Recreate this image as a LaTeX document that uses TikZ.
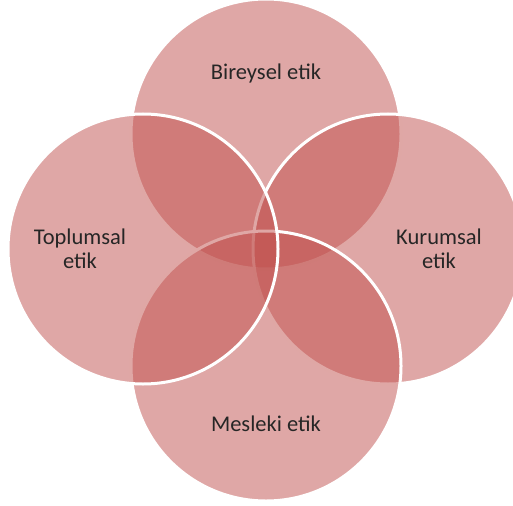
\documentclass[tikz,border=0pt]{standalone}
\usepackage{fontspec}
\setmainfont{Carlito}
\usepackage{tikz}
\usetikzlibrary{positioning}
\definecolor{VennRose}{RGB}{192, 80, 77}
\definecolor{VennText}{RGB}{38, 38, 38}
\tikzset{
  venn/.style={circle, draw=white, line width=3pt, fill=VennRose, fill opacity=0.5,
    minimum size=270pt, inner sep=0pt},
  lbl/.style={font=\fontsize{22.5}{24}\selectfont, text=VennText, align=center},
}
\begin{document}
\begin{tikzpicture}[x=1pt, y=-1pt]
    \useasboundingbox (0,0) rectangle (513,505);
    % circles, back to front
    \node[venn] (bireysel) at (266,134) {};
    \node[venn] (kurumsal) at (388,249) {};
    \node[venn] (mesleki) at (266,366) {};
    \node[venn] (toplumsal) at (143,249) {};
    % texts
    \node[lbl] (tb) at (266,74) {Bireysel etik};
    \node[lbl] (tk) at (439,249) {Kurumsal\\etik};
    \node[lbl] (tm) at (266,424) {Mesleki etik};
    \node[lbl] (tt) at (80,249) {Toplumsal\\etik};
\end{tikzpicture}
\end{document}
